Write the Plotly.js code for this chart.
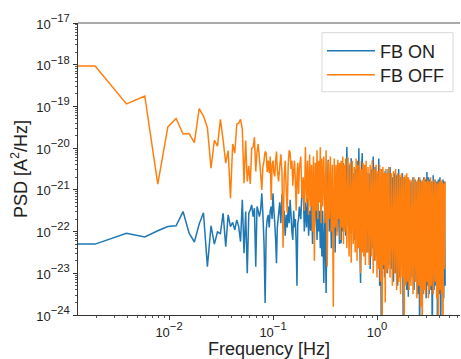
<!DOCTYPE html>
<html>
<head>
<meta charset="utf-8">
<script src="https://cdn.plot.ly/plotly-3.0.1.min.js"></script>
<style>html,body{margin:0;padding:0;background:#fff;}#chart{width:461px;height:359px;}</style>
</head>
<body>
<div id="chart"></div>
<script>
// Frequencies [Hz] (shared by both series)
const freq = [
  0.001, 0.00195, 0.0039, 0.00585, 0.0078, 0.00975, 0.0117, 0.01365, 0.0156, 0.01755, 0.0195, 0.02145, 0.0234, 0.02535, 0.0273, 0.02925, 0.0312, 0.03315, 0.0351, 0.03705, 0.039, 0.04095, 0.0429, 0.04485, 0.0468, 0.04875, 0.0507, 0.05265, 0.0546, 0.05655, 0.0585, 0.06045, 0.0624, 0.06435, 0.0663, 0.06825, 0.0702,
  0.072,0.074,0.076,0.078,0.080,0.082,0.084,0.086,0.088,0.090,0.092,0.094,0.096,0.098,0.100,0.102,0.104,0.106,0.108,0.110,
  0.113,0.116,0.119,0.122,0.125,0.128,0.131,0.134,0.137,0.140,0.143,0.146,0.149,0.152,0.155,0.158,0.161,0.164,0.167,0.170,0.173,0.176,0.179,
  0.185,0.190,0.195,0.200,0.205,0.210,0.215,0.220,0.225,0.230,0.235,0.240,0.245,0.250,0.255,0.260,0.265,0.270,0.275,0.280,0.285,0.290,0.295,0.300,
  0.308,0.316,0.324,0.332,0.340,0.348,0.356,0.364,0.372,0.380,0.388,0.396,0.404,0.412,0.420,0.428,0.436,0.444,0.452,0.460,0.468,0.476,0.484,0.492,0.500,
  0.513,0.526,0.539,0.552,0.565,0.578,0.591,0.604,0.617,0.630,0.643,0.656,0.669,0.682,0.695,0.708,0.721,0.734,0.747,0.760,0.773,0.786,0.799,
  0.82,0.84,0.86,0.88,0.90,0.92,0.94,0.96,0.98,1.00,1.02,1.04,1.06,1.08,1.10,1.12,1.14,1.16,1.18,1.20,1.22,1.24,1.26,1.28,1.30,
  1.335,1.37,1.405,1.44,1.475,1.51,1.545,1.58,1.615,1.65,1.685,1.72,1.755,1.79,1.825,1.86,1.895,1.93,1.965,2.0,2.035,2.07,
  2.12,2.17,2.22,2.27,2.32,2.37,2.42,2.47,2.52,2.57,2.62,2.67,2.72,2.77,2.82,2.87,2.92,2.97,3.02,3.07,3.12,3.17,3.22,3.27,
  3.33,3.40,3.47,3.54,3.61,3.68,3.75,3.82,3.89,3.96,4.03,4.10,4.17,4.24,4.31,4.38,4.45,4.52
];

// log10 of PSD [A^2/Hz], FB ON
const fbOnLog = [
  -22.3,-22.3,-22.04,-22.13,-21.98,-21.88,-21.86,-21.52,-22.04,-22.25,-21.82,-21.55,-22.84,-21.86,-22.3,-22.01,-22.05,-21.56,-22.36,-21.6,-21.88,-21.78,-21.96,-21.72,-21.88,-22.24,-21.24,-22.52,-21.52,-23.0,-21.56,-21.48,-21.36,-21.64,-21.44,-22.84,-21.4,
  -21.5,-21.64,-21.5,-21.08,-21.6,-22.3,-23.71,-21.98,-21.7,-21.6,-21.9,-21.5,-21.4,-21.7,-21.08,-21.5,-21.8,-22.2,-22.76,-21.9,
  -21.6,-21.3,-21.8,-21.1,-21.7,-21.5,-22.1,-21.6,-21.9,-21.4,-21.8,-21.24,-21.6,-22.0,-22.2,-21.5,-21.9,-21.7,-22.3,-23.3,-21.8,-21.7,-21.4,
  -21.7,-21.0,-20.84,-22.0,-21.3,-21.9,-21.2,-22.1,-21.5,-21.98,-21.1,-22.3,-21.4,-21.9,-21.6,-21.24,-22.2,-21.3,-22.0,-21.5,-22.4,-21.2,-22.6,-21.5,
  -23.23,-21.3,-23.47,-21.2,-20.28,-22.0,-21.0,-22.4,-20.9,-22.1,-21.1,-22.5,-20.9,-22.0,-20.8,-21.6,-22.3,-21.0,-22.28,-20.6,-22.0,-20.36,-21.9,-20.6,-22.1,
  -19.97,-21.8,-20.4,-22.0,-20.24,-21.7,-20.6,-22.2,-20.5,-21.9,-20.3,-22.4,-20.0,-22.1,-23.23,-20.6,-20.12,-22.3,-20.5,-22.0,-20.45,-22.5,-20.6,
  -22.5,-20.6,-22.9,-20.5,-22.4,-20.2,-22.7,-20.45,-22.6,-20.6,-22.8,-20.25,-23.3,-20.7,-24.6,-20.5,-22.9,-20.6,-23.1,-20.55,-22.7,-20.6,-23.0,-20.5,-22.8,
  -20.45,-22.9,-20.7,-23.2,-20.6,-23.0,-20.65,-23.3,-20.5,-23.1,-20.7,-22.44,-20.6,-24.6,-20.7,-23.0,-20.75,-23.4,-20.7,-23.56,-20.8,-23.2,
  -20.8,-23.1,-20.7,-23.4,-20.75,-23.2,-20.8,-23.5,-20.7,-24.6,-20.75,-23.3,-20.8,-23.5,-20.7,-23.3,-20.75,-23.6,-20.57,-23.3,-20.7,-23.5,-20.75,-23.4,
  -20.8,-24.6,-20.65,-23.4,-20.75,-23.3,-20.8,-24.6,-20.75,-23.5,-20.7,-24.6,-20.8,-23.4,-20.75,-23.6,-20.8,-23.3
];

// log10 of PSD [A^2/Hz], FB OFF
const fbOffLog = [
  -18.03,-18.03,-18.94,-18.75,-20.86,-19.49,-19.29,-19.66,-19.65,-19.87,-19.05,-19.23,-19.51,-20.48,-19.81,-19.95,-19.31,-19.81,-20.36,-20.06,-21.2,-19.9,-20.12,-19.42,-19.4,-19.31,-19.55,-20.84,-19.82,-20.8,-20.43,-20.86,-20.0,-19.98,-19.74,-20.56,-20.1,
  -19.9,-20.24,-20.6,-21.0,-20.44,-20.3,-20.08,-20.12,-20.57,-20.3,-20.6,-20.2,-21.24,-20.4,-20.3,-20.6,-20.68,-20.3,-20.08,-20.5,
  -20.8,-20.45,-20.15,-20.6,-22.39,-20.7,-20.3,-21.0,-21.55,-20.4,-20.05,-20.1,-20.5,-20.3,-20.9,-20.55,-20.3,-20.8,-21.5,-20.7,-20.35,-21.1,-20.5,
  -20.2,-21.2,-20.7,-21.5,-19.97,-21.3,-20.3,-21.6,-20.15,-21.4,-20.4,-22.0,-20.2,-22.7,-20.35,-21.5,-20.05,-21.7,-20.3,-21.3,-19.98,-21.8,-20.25,-21.4,
  -20.2,-21.8,-20.05,-22.84,-20.3,-21.7,-20.2,-22.0,-20.4,-23.8,-20.25,-21.9,-20.4,-22.1,-20.28,-21.7,-20.35,-22.2,-20.3,-21.9,-20.2,-22.3,-20.4,-22.0,-20.25,
  -22.4,-20.22,-22.6,-20.35,-22.75,-20.3,-22.3,-20.45,-22.5,-20.25,-22.7,-20.4,-22.4,-20.3,-23.0,-20.5,-22.5,-20.35,-22.6,-20.4,-22.8,-20.3,-22.5,
  -20.45,-22.8,-20.4,-22.6,-20.29,-23.0,-20.5,-22.7,-20.4,-23.1,-20.55,-22.9,-20.4,-23.2,-20.5,-24.6,-20.45,-22.8,-20.6,-23.7,-20.5,-23.0,-20.6,-22.9,-20.45,
  -23.1,-20.6,-23.3,-20.55,-23.0,-20.5,-23.4,-20.6,-23.2,-20.65,-23.5,-20.6,-23.1,-20.7,-24.6,-20.65,-23.3,-20.6,-23.2,-20.7,-23.4,-20.75,
  -23.3,-20.76,-23.5,-20.7,-23.2,-20.8,-23.6,-20.75,-23.3,-20.7,-23.8,-20.8,-24.6,-20.75,-23.4,-20.7,-23.5,-20.8,-23.2,-20.75,-23.6,-20.8,-23.4,-20.7,
  -23.3,-20.8,-23.5,-20.75,-23.2,-20.8,-23.6,-20.85,-24.6,-20.8,-23.4,-20.75,-23.5,-20.8,-24.6,-20.85,-22.9,-20.8
];

const seriesNames = ['FB ON', 'FB OFF'];
const xTickVals = [0.01, 0.1, 1];
const xExps = ['\u22122', '\u22121', '0'];
const yTickVals = [1e-24, 1e-23, 1e-22, 1e-21, 1e-20, 1e-19, 1e-18, 1e-17];
const yExps = ['\u221224','\u221223','\u221222','\u221221','\u221220','\u221219','\u221218','\u221217'];

const supLabel = e => '<span style="font-size:13px">10</span><sup>' + e + '</sup>';
const toPsd = a => a.map(v => Math.pow(10, v));
const FONT = 'Liberation Sans, Arial, sans-serif';

const traces = [
  {x: freq, y: toPsd(fbOnLog), name: seriesNames[0], type: 'scatter', mode: 'lines',
   line: {color: '#1f77b4', width: 1.5, simplify: false}, legend: 'legend'},
  {x: freq, y: toPsd(fbOffLog), name: seriesNames[1], type: 'scatter', mode: 'lines',
   line: {color: '#ff7f0e', width: 1.5, simplify: false}, legend: 'legend2'}
];

const axisCommon = {
  type: 'log', showline: true, linecolor: '#333', linewidth: 1, mirror: false,
  ticks: 'outside', ticklen: 4, tickwidth: 1, tickcolor: '#333', showgrid: false, zeroline: false,
  tickmode: 'array', tickfont: {family: FONT, size: 16, color: '#222'},
  minor: {ticks: 'outside', ticklen: 2, tickwidth: 1, tickcolor: '#555', showgrid: false, dtick: 'D1'}
};

const legendCommon = {
  x: 0.6387, xanchor: 'left', yanchor: 'top',
  bgcolor: 'rgba(0,0,0,0)', borderwidth: 0,
  font: {family: FONT, size: 18, color: '#222'}, itemwidth: 48
};

const layout = {
  width: 461, height: 359,
  margin: {l: 78, r: 1, t: 23, b: 44, pad: 0},
  paper_bgcolor: '#fff', plot_bgcolor: '#fff',
  font: {family: FONT, color: '#222'},
  showlegend: true,
  xaxis: Object.assign({}, axisCommon, {
    range: [-2.875, 0.798], tickvals: xTickVals, ticktext: xExps.map(supLabel),
    ticklabelstandoff: -2,
    title: {text: 'Frequency [Hz]', font: {family: FONT, size: 18, color: '#222'}, standoff: 5}
  }),
  yaxis: Object.assign({}, axisCommon, {
    range: [-24, -17], tickvals: yTickVals, ticktext: yExps.map(supLabel),
    title: {text: 'PSD [A<sup>2</sup>/Hz]', font: {family: FONT, size: 18, color: '#222'}, standoff: 4}
  }),
  legend: Object.assign({}, legendCommon, {y: 0.967}),
  legend2: Object.assign({}, legendCommon, {y: 0.885}),
  shapes: [
    {type: 'line', xref: 'paper', yref: 'paper', x0: 0, x1: 1, y0: 1, y1: 1,
     line: {color: '#aaaaaa', width: 2}},
    {type: 'rect', xref: 'paper', yref: 'paper', x0: 0.6387, x1: 0.9817, y0: 0.7647, y1: 0.9668,
     layer: 'above', fillcolor: 'rgba(255,255,255,0.8)', line: {color: '#d8d8d8', width: 1}}
  ]
};

Plotly.newPlot('chart', traces, layout, {displayModeBar: false, staticPlot: true});
</script>
</body>
</html>
